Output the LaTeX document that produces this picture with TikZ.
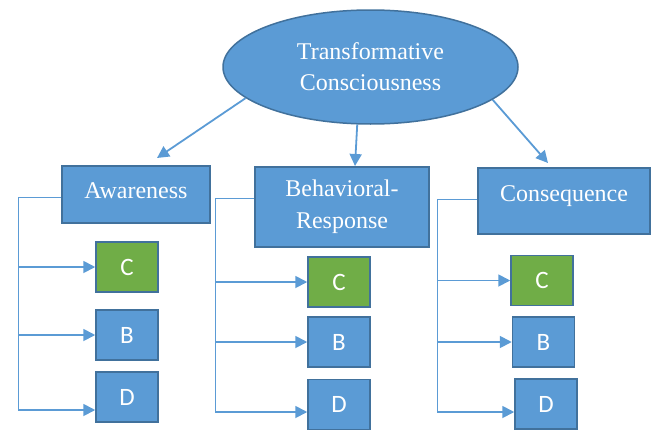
\documentclass[tikz,border=0pt]{standalone}
\usepackage{fontspec}
\setmainfont{Liberation Serif}
\newfontfamily\boxfont{Carlito}
\usetikzlibrary{shapes.geometric,arrows.meta,calc}
\definecolor{boxblue}{HTML}{5B9BD5}
\definecolor{boxedge}{HTML}{41719C}
\definecolor{boxgreen}{HTML}{70AD47}
\begin{document}
\begin{tikzpicture}[x=1pt,y=-1pt,
  bigbox/.style={draw=boxedge,line width=1.5pt,fill=boxblue,text=white,inner sep=0pt,
    font=\fontsize{24}{32}\selectfont,align=center},
  smallbox/.style={draw=boxedge,line width=1.5pt,fill=boxblue,text=white,inner sep=0pt,
    minimum width=62pt,minimum height=50pt,font=\boxfont\fontsize{25}{30}\selectfont},
  greenbox/.style={smallbox,fill=boxgreen},
  spine/.style={draw=boxblue,line width=1pt},
  arr/.style={draw=boxblue,line width=1.8pt,-{Triangle[length=12pt,width=12pt]}},
]
\useasboundingbox (0,0) rectangle (651,431);

% top ellipse
\node[ellipse,draw=boxedge,line width=1.5pt,fill=boxblue,text=white,inner sep=0pt,
  minimum width=295pt,minimum height=114pt,align=center,
  font=\fontsize{24}{31}\selectfont] (el) at (370.5,67) {Transformative\\Consciousness};

% second level
\node[bigbox,minimum width=148pt,minimum height=57pt,text height=16pt,text depth=8.4pt] (aw) at (136,194.5) {Awareness};
\node[bigbox,minimum width=174pt,minimum height=80pt] (bh) at (342,207) {\raisebox{-3pt}{Behavioral-}\\\raisebox{-3pt}{Response}};
\node[bigbox,minimum width=172pt,minimum height=66pt,text height=12pt,text depth=12pt] (cq) at (564,201) {Consequence};

% top arrows
\coordinate (awin) at (157,158);
\coordinate (bhin) at (355,166);
\coordinate (cqin) at (548,163);
\draw[arr] (el.194) -- (awin);
\draw[arr] (el.257) -- (bhin);
\draw[arr] (el.345) -- (cqin);

% small boxes
\node[greenbox] (c1) at (127,267) {C};
\node[smallbox] (b1) at (127,335) {B};
\node[smallbox] (d1) at (127,397) {D};
\node[greenbox] (c2) at (339,282) {C};
\node[smallbox] (b2) at (339,342) {B};
\node[smallbox] (d2) at (339,404.5) {D};
\node[greenbox] (c3) at (542,280.5) {C};
\node[smallbox] (b3) at (543.5,342) {B};
\node[smallbox] (d3) at (546,404) {D};

% column 1 connectors
\coordinate (s1t) at (18,197);
\coordinate (s1b) at (18,410);
\draw[spine] (s1t -| aw.west) -- (s1t) -- (s1b);
\draw[arr] (c1.west -| s1t) -- (c1.west);
\draw[arr] (b1.west -| s1t) -- (b1.west);
\draw[arr] (s1b) -- (s1b -| d1.west);

% column 2 connectors
\coordinate (s2t) at (215,198);
\coordinate (s2b) at (215,412);
\draw[spine] (s2t -| bh.west) -- (s2t) -- (s2b);
\draw[arr] (c2.west -| s2t) -- (c2.west);
\draw[arr] (b2.west -| s2t) -- (b2.west);
\draw[arr] (s2b) -- (s2b -| d2.west);

% column 3 connectors
\coordinate (s3t) at (437,199);
\coordinate (s3b) at (437,412);
\draw[spine] (s3t -| cq.west) -- (s3t) -- (s3b);
\draw[arr] (c3.west -| s3t) -- (c3.west);
\draw[arr] (b3.west -| s3t) -- (b3.west);
\draw[arr] (s3b) -- (s3b -| d3.west);
\end{tikzpicture}
\end{document}
